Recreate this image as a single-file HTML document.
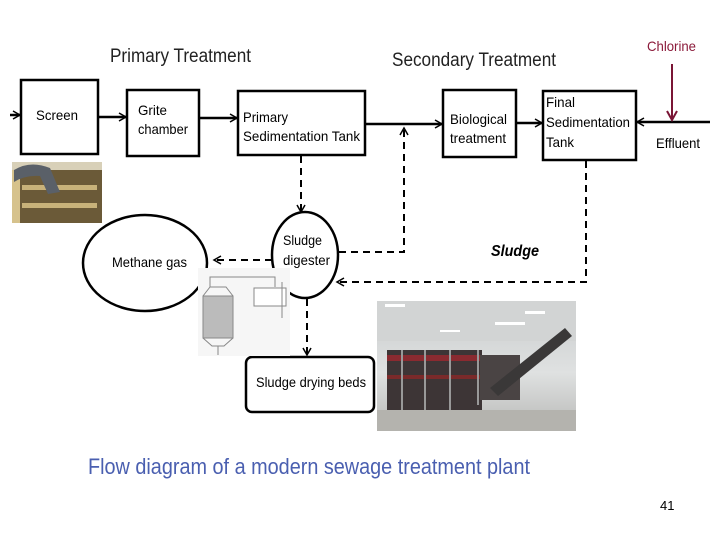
<!DOCTYPE html>
<html><head><meta charset="utf-8"><style>
html,body{margin:0;padding:0;background:#fff;}
svg{display:block;font-family:"Liberation Sans",Arial,sans-serif;}
</style></head><body>
<svg width="720" height="540" viewBox="0 0 720 540" xmlns="http://www.w3.org/2000/svg">
<defs>
<marker id="a" markerWidth="10" markerHeight="10" refX="8" refY="5" orient="auto" markerUnits="userSpaceOnUse">
<path d="M1,1 L8,5 L1,9" fill="none" stroke="#000" stroke-width="1.5"/></marker>
<marker id="r" markerWidth="12" markerHeight="12" refX="10" refY="6" orient="auto" markerUnits="userSpaceOnUse">
<path d="M1,1 L10,6 L1,11" fill="none" stroke="#7a1535" stroke-width="2"/></marker>
<linearGradient id="fl" x1="0" y1="0" x2="0" y2="1"><stop offset="0" stop-color="#c9cccd"/><stop offset="0.55" stop-color="#dfe1e1"/><stop offset="1" stop-color="#b8b9b7"/></linearGradient>
</defs>
<!-- titles -->
<text x="110" y="62" font-size="19" textLength="141" lengthAdjust="spacingAndGlyphs" fill="#222">Primary Treatment</text>
<text x="392" y="66" font-size="19" textLength="164" lengthAdjust="spacingAndGlyphs" fill="#222">Secondary Treatment</text>
<text x="647" y="51" font-size="14" textLength="49" lengthAdjust="spacingAndGlyphs" fill="#8b1a3a">Chlorine</text>
<!-- boxes -->
<g fill="#fff" stroke="#000" stroke-width="2.5">
<rect x="21" y="80" width="77" height="74"/>
<rect x="127" y="90" width="72" height="66"/>
<rect x="238" y="91" width="127" height="64"/>
<rect x="443" y="90" width="73" height="67"/>
<rect x="543" y="91" width="93" height="69"/>
<rect x="246" y="357" width="128" height="55" rx="6"/>
<ellipse cx="145" cy="263" rx="62" ry="48"/>
<ellipse cx="305" cy="255" rx="33" ry="43"/>
</g>
<!-- solid arrows -->
<g stroke="#000" stroke-width="2.5" fill="none">
<line x1="10" y1="115" x2="20" y2="115" marker-end="url(#a)"/>
<line x1="98" y1="117" x2="126" y2="117" marker-end="url(#a)"/>
<line x1="199" y1="118" x2="237" y2="118" marker-end="url(#a)"/>
<line x1="365" y1="124" x2="442" y2="124" marker-end="url(#a)"/>
<line x1="516" y1="123" x2="542" y2="123" marker-end="url(#a)"/>
<line x1="710" y1="122" x2="637" y2="122" marker-end="url(#a)"/>
</g>
<line x1="672" y1="64" x2="672" y2="120" stroke="#7a1535" stroke-width="2" marker-end="url(#r)"/>
<!-- dashed -->
<g stroke="#000" stroke-width="2" fill="none" stroke-dasharray="7,5">
<line x1="301" y1="156" x2="301" y2="212" marker-end="url(#a)"/>
<polyline points="339,252 404,252 404,128" marker-end="url(#a)"/>
<polyline points="586,161 586,282 337,282" marker-end="url(#a)"/>
<line x1="272" y1="260" x2="214" y2="260" marker-end="url(#a)"/>
<line x1="307" y1="299" x2="307" y2="355" marker-end="url(#a)"/>
</g>
<!-- labels -->
<g font-size="14" fill="#000">
<text x="36" y="120" textLength="42" lengthAdjust="spacingAndGlyphs">Screen</text>
<text x="138" y="115" textLength="29" lengthAdjust="spacingAndGlyphs">Grite</text>
<text x="138" y="134" textLength="50" lengthAdjust="spacingAndGlyphs">chamber</text>
<text x="243" y="122" textLength="45" lengthAdjust="spacingAndGlyphs">Primary</text>
<text x="243" y="141" textLength="117" lengthAdjust="spacingAndGlyphs">Sedimentation Tank</text>
<text x="450" y="124" textLength="57" lengthAdjust="spacingAndGlyphs">Biological</text>
<text x="450" y="143" textLength="56" lengthAdjust="spacingAndGlyphs">treatment</text>
<text x="546" y="107" textLength="29" lengthAdjust="spacingAndGlyphs">Final</text>
<text x="546" y="127" textLength="84" lengthAdjust="spacingAndGlyphs">Sedimentation</text>
<text x="546" y="147" textLength="28" lengthAdjust="spacingAndGlyphs">Tank</text>
<text x="656" y="148" textLength="44" lengthAdjust="spacingAndGlyphs">Effluent</text>
<text x="112" y="267" textLength="75" lengthAdjust="spacingAndGlyphs">Methane gas</text>
<text x="283" y="245" textLength="39" lengthAdjust="spacingAndGlyphs">Sludge</text>
<text x="283" y="265" textLength="47" lengthAdjust="spacingAndGlyphs">digester</text>
<text x="256" y="387" textLength="110" lengthAdjust="spacingAndGlyphs">Sludge drying beds</text>
<text x="491" y="256" font-size="16" font-weight="bold" font-style="italic" textLength="48" lengthAdjust="spacingAndGlyphs">Sludge</text>
</g>
<!-- small photo -->
<rect x="12" y="162" width="90" height="61" fill="#6b5a38"/>
<rect x="12" y="162" width="90" height="8" fill="#d8d0b8"/>
<rect x="22" y="185" width="75" height="5" fill="#c8b27a"/>
<rect x="22" y="203" width="75" height="5" fill="#c8b27a"/>
<rect x="12" y="170" width="8" height="53" fill="#d6c28c"/>
<path d="M14,170 Q30,160 50,168 L60,192 L48,194 L40,176 Q25,175 14,182Z" fill="#5a6068"/>
<!-- apparatus sketch -->
<rect x="198" y="268" width="92" height="88" fill="#f6f6f6"/>
<g stroke="#888" fill="none" stroke-width="1">
<rect x="203" y="296" width="30" height="42" fill="#bbb"/>
<path d="M203,296 L210,287 L226,287 L233,296 M203,338 L212,346 L224,346 L233,338 M218,346 V355"/>
<path d="M210,287 V277 H275 V287"/>
<rect x="254" y="288" width="32" height="18" fill="#fff"/>
<path d="M282,282 V318"/>
</g>
<!-- big photo -->
<rect x="377" y="301" width="199" height="130" fill="url(#fl)"/>
<rect x="377" y="301" width="199" height="40" fill="#d2d4d4"/>
<g fill="#fff"><rect x="385" y="304" width="20" height="3"/><rect x="495" y="322" width="30" height="3"/><rect x="440" y="330" width="20" height="2"/><rect x="525" y="311" width="20" height="3"/></g>
<rect x="387" y="350" width="95" height="60" fill="#3d3536"/>
<rect x="387" y="355" width="95" height="6" fill="#8a2a30"/>
<rect x="387" y="375" width="95" height="4" fill="#7a2a2a"/>
<rect x="480" y="355" width="40" height="45" fill="#4a4444"/>
<g stroke="#999" stroke-width="2"><line x1="402" y1="350" x2="402" y2="415"/><line x1="425" y1="350" x2="425" y2="410"/><line x1="450" y1="350" x2="450" y2="410"/><line x1="478" y1="350" x2="478" y2="405"/></g>
<path d="M490,388 L565,328 L572,336 L498,396Z" fill="#3a3838"/>
<rect x="377" y="410" width="199" height="21" fill="#b4b3ae"/>
<!-- caption -->
<text x="88" y="474" font-size="22" fill="#4a5fb0" textLength="442" lengthAdjust="spacingAndGlyphs">Flow diagram of a modern sewage treatment plant</text>
<text x="660" y="510" font-size="13" fill="#000">41</text>
</svg>
</body></html>
